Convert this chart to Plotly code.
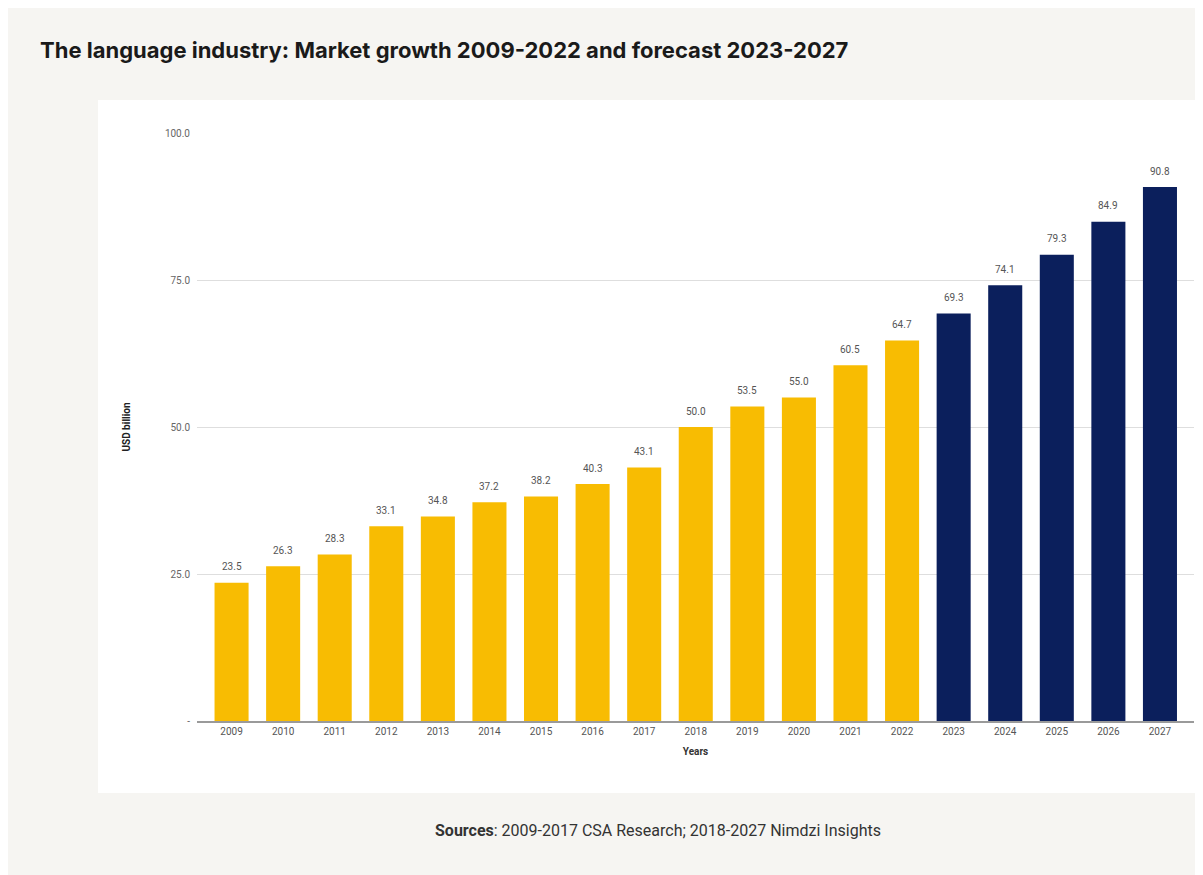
import plotly.graph_objects as go

# data
years = [str(y) for y in range(2009, 2028)]
market = [23.5, 26.3, 28.3, 33.1, 34.8, 37.2, 38.2, 40.3, 43.1,
          50.0, 53.5, 55.0, 60.5, 64.7,
          69.3, 74.1, 79.3, 84.9, 90.8]
forecast_from = '2023'
y_ticks = [0, 25, 50, 75, 100]
y_ticktext = ['-', '25.0', '50.0', '75.0', '100.0']

yellow = '#F8BC02'
navy = '#0B1F5C'
colors = [navy if y >= forecast_from else yellow for y in years]

fig = go.Figure()
fig.add_trace(go.Bar(
    x=years,
    y=market,
    marker=dict(color=colors, line=dict(width=0)),
    width=0.66,
    showlegend=False,
    hovertemplate='%{x}: %{y:.1f}<extra></extra>',
))

# value labels above the bars (x is the category index on the category axis)
for i, v in enumerate(market):
    fig.add_annotation(x=i, y=v, text='%.1f' % v, showarrow=False,
                       yshift=16, yanchor='middle',
                       font=dict(family='Roboto, Arial, sans-serif', size=10, color='#555555'))

# white chart panel on the textured page
fig.add_shape(type='rect', xref='paper', yref='paper',
              x0=-0.0993, x1=1.012, y0=-0.1224, y1=1.056,
              fillcolor='white', line=dict(width=0), layer='below')

# titles
fig.add_annotation(text='<b>The language industry: Market growth 2009-2022 and forecast 2023-2027</b>',
                   xref='paper', yref='paper', x=-0.1595, y=1.141, xanchor='left', yanchor='middle',
                   showarrow=False, font=dict(family='Inter, Roboto, sans-serif', size=22, color='#1a1a1a'))
fig.add_annotation(text='<b>Sources</b>: 2009-2017 CSA Research; 2018-2027 Nimdzi Insights',
                   xref='paper', yref='paper', x=0.4624, y=-0.1854, xanchor='center', yanchor='middle',
                   showarrow=False, font=dict(family='Roboto, Arial, sans-serif', size=16, color='#333333'))

fig.update_layout(
    width=1195, height=867,
    margin=dict(l=189, r=9, t=125, b=154),
    paper_bgcolor='#f6f5f2',
    plot_bgcolor='white',
    font=dict(family='Roboto, Arial, sans-serif', color='#555555'),
    xaxis=dict(
        type='category',
        range=[-0.67, 18.66],
        showgrid=False,
        showline=True, linecolor='#9a9a9a', linewidth=1.5,
        ticks='', tickfont=dict(size=10, color='#555555'),
        title=dict(text='<b>Years</b>', font=dict(size=10, color='#333333'), standoff=12),
    ),
    yaxis=dict(
        range=[0, 100],
        tickvals=y_ticks, ticktext=y_ticktext,
        showgrid=True, gridcolor='#dedede', gridwidth=1,
        zeroline=False, ticks='', ticklabelstandoff=6,
        tickfont=dict(size=10, color='#666666'),
        title=dict(text='<b>USD billion</b>', font=dict(size=10, color='#222222'), standoff=32),
    ),
)

fig.write_html('out.html')
